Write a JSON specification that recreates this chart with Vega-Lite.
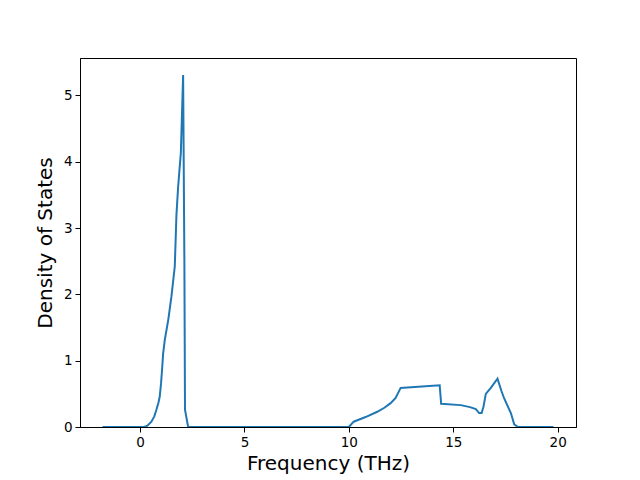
{
  "$schema": "https://vega.github.io/schema/vega-lite/v6.json",
  "width": 496,
  "height": 369,
  "autosize": {"type": "none"},
  "padding": {"left": 80, "top": 58, "right": 64, "bottom": 53},
  "background": "white",
  "config": {
    "view": {"stroke": "black", "strokeWidth": 1},
    "axis": {
      "labelFont": "DejaVu Sans",
      "labelFontSize": 13.5,
      "labelColor": "black",
      "titleFont": "DejaVu Sans",
      "titleFontSize": 20,
      "titleFontWeight": "normal",
      "titleColor": "black",
      "tickColor": "black",
      "tickSize": 5,
      "tickWidth": 1,
      "labelPadding": 3,
      "domainColor": "black",
      "domainWidth": 1,
      "grid": false
    }
  },
  "data": {
    "values": [
      {"f": -1.8, "d": 0},
      {"f": 0.0, "d": 0},
      {"f": 0.2, "d": 0.0},
      {"f": 0.35, "d": 0.02},
      {"f": 0.54, "d": 0.08},
      {"f": 0.68, "d": 0.16},
      {"f": 0.78, "d": 0.26},
      {"f": 0.88, "d": 0.37},
      {"f": 0.94, "d": 0.46},
      {"f": 1.0, "d": 0.65},
      {"f": 1.05, "d": 0.86},
      {"f": 1.1, "d": 1.1},
      {"f": 1.18, "d": 1.31},
      {"f": 1.35, "d": 1.62},
      {"f": 1.5, "d": 1.97},
      {"f": 1.66, "d": 2.42},
      {"f": 1.74, "d": 3.2},
      {"f": 1.82, "d": 3.62},
      {"f": 1.95, "d": 4.13},
      {"f": 2.06, "d": 5.31},
      {"f": 2.12, "d": 2.5},
      {"f": 2.15, "d": 0.26},
      {"f": 2.3, "d": 0},
      {"f": 10.0, "d": 0},
      {"f": 10.23, "d": 0.08},
      {"f": 10.8, "d": 0.15},
      {"f": 11.36, "d": 0.23},
      {"f": 11.7, "d": 0.29},
      {"f": 12.0, "d": 0.36},
      {"f": 12.24, "d": 0.44},
      {"f": 12.48, "d": 0.59},
      {"f": 13.5, "d": 0.61},
      {"f": 14.35, "d": 0.63},
      {"f": 14.42, "d": 0.35},
      {"f": 15.36, "d": 0.33},
      {"f": 15.8, "d": 0.3},
      {"f": 16.08, "d": 0.27},
      {"f": 16.24, "d": 0.21},
      {"f": 16.36, "d": 0.21},
      {"f": 16.45, "d": 0.31},
      {"f": 16.56, "d": 0.5},
      {"f": 16.8, "d": 0.59},
      {"f": 17.12, "d": 0.73},
      {"f": 17.3, "d": 0.55},
      {"f": 17.44, "d": 0.43},
      {"f": 17.76, "d": 0.21},
      {"f": 17.92, "d": 0.04},
      {"f": 18.1, "d": 0},
      {"f": 19.8, "d": 0}
    ]
  },
  "mark": {"type": "line", "color": "#1f77b4", "strokeWidth": 2, "clip": true},
  "encoding": {
    "x": {
      "field": "f",
      "type": "quantitative",
      "scale": {"domain": [-2.88, 20.88], "nice": false, "zero": false},
      "axis": {"title": "Frequency (THz)", "values": [0, 5, 10, 15, 20], "titlePadding": 5}
    },
    "y": {
      "field": "d",
      "type": "quantitative",
      "scale": {"domain": [0, 5.565], "nice": false},
      "axis": {"title": "Density of States", "values": [0, 1, 2, 3, 4, 5], "titlePadding": 8}
    }
  }
}
